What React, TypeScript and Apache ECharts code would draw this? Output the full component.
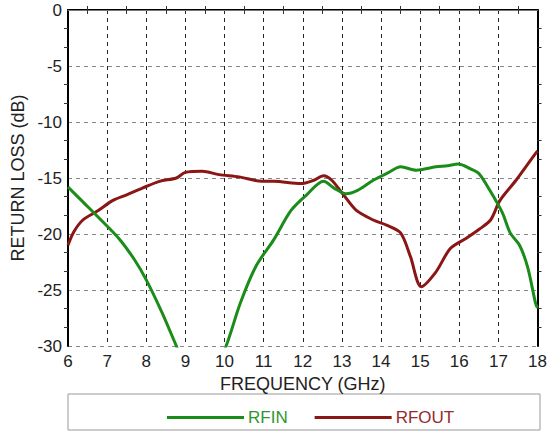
import React, { useEffect, useRef } from "react";
import * as echarts from "echarts";

const xTicks = [6, 7, 8, 9, 10, 11, 12, 13, 14, 15, 16, 17, 18];
const yTicks = [0, -5, -10, -15, -20, -25, -30];

const rfinFreq = [6, 6.4, 6.8, 7.3, 7.7, 8.0, 8.4, 8.77, 9.4, 10.04, 10.4, 10.8, 11.26, 11.7, 12.1, 12.53, 12.8, 13.1, 13.4, 13.8, 14.2, 14.5, 14.9, 15.4, 15.7, 15.97, 16.3, 16.5, 16.78, 17.1, 17.3, 17.54, 17.75, 17.95, 18];
const rfinLoss = [-15.8, -17.2, -18.6, -20.4, -22.3, -24.1, -27.0, -30, -35, -30, -26.2, -22.9, -20.5, -17.9, -16.5, -15.3, -15.9, -16.4, -16.1, -15.2, -14.5, -14.0, -14.3, -14.0, -13.9, -13.75, -14.2, -14.6, -16.1, -18.1, -19.9, -21.0, -23.0, -26.2, -26.6];

const rfoutFreq = [6, 6.15, 6.38, 6.73, 7.15, 7.5, 7.9, 8.34, 8.77, 9.0, 9.43, 9.86, 10.37, 10.96, 11.26, 11.95, 12.28, 12.53, 12.74, 13.04, 13.37, 13.8, 14.14, 14.5, 14.75, 15.03, 15.4, 15.77, 16.17, 16.5, 16.8, 17.04, 17.45, 17.95, 18];
const rfoutLoss = [-21.0, -19.8, -18.75, -18.0, -17.0, -16.5, -15.9, -15.3, -15.0, -14.5, -14.4, -14.7, -14.9, -15.3, -15.3, -15.5, -15.2, -14.8, -15.2, -16.5, -17.9, -18.75, -19.2, -19.9, -22.0, -24.7, -23.4, -21.3, -20.4, -19.6, -18.75, -17.0, -15.2, -12.8, -12.6];

const GREEN = "#1a8c1a";
const RED = "#8b1616";
const FONT = "Liberation Sans";

function zip(xs: number[], ys: number[]) {
  return xs.map((x, i) => [x, ys[i]]);
}

export default function App() {
  const ref = useRef<HTMLDivElement>(null);
  useEffect(() => {
    const chart = echarts.init(ref.current!, null, { renderer: "svg" });
    const grid = { left: 68, right: 10, top: 10, bottom: 87 };
    chart.setOption({
      animation: false,
      backgroundColor: "#ffffff",
      grid,
      xAxis: [
        {
          type: "value",
          min: xTicks[0],
          max: xTicks[xTicks.length - 1],
          interval: 1,
          position: "bottom",
          name: "FREQUENCY (GHz)",
          nameLocation: "middle",
          nameGap: 26,
          nameTextStyle: { fontFamily: FONT, fontSize: 18, color: "#222" },
          axisLine: { show: true, lineStyle: { color: "#000", width: 2 } },
          axisTick: { show: false },
          minorTick: { show: true, splitNumber: 2, length: 4, lineStyle: { color: "#333", width: 1 } },
          axisLabel: { fontFamily: FONT, fontSize: 17, color: "#222", margin: 7 },
          splitLine: { show: true, lineStyle: { color: "#222", type: [4, 4], width: 1 } },
        },
        {
          type: "value",
          min: xTicks[0],
          max: xTicks[xTicks.length - 1],
          interval: 1,
          position: "top",
          axisLine: { show: true, lineStyle: { color: "#777", width: 1 } },
          axisTick: { show: false },
          minorTick: { show: true, splitNumber: 2, length: 4, lineStyle: { color: "#333" } },
          axisLabel: { show: false },
          splitLine: { show: false },
        },
      ],
      yAxis: [
        {
          type: "value",
          min: yTicks[yTicks.length - 1],
          max: yTicks[0],
          interval: 5,
          name: "RETURN LOSS (dB)",
          nameLocation: "middle",
          nameGap: 37,
          nameTextStyle: { fontFamily: FONT, fontSize: 18, color: "#222" },
          axisLine: { show: true, lineStyle: { color: "#000", width: 2 } },
          axisTick: { show: false },
          minorTick: { show: true, splitNumber: 3, length: 4, lineStyle: { color: "#333" } },
          axisLabel: { fontFamily: FONT, fontSize: 17, color: "#222", margin: 6 },
          splitLine: { show: true, lineStyle: { color: "#888", type: [4, 4], width: 1.2 } },
        },
        {
          type: "value",
          min: yTicks[yTicks.length - 1],
          max: yTicks[0],
          interval: 5,
          position: "right",
          axisLine: { show: true, lineStyle: { color: "#000", width: 2 } },
          axisTick: { show: false },
          minorTick: { show: true, splitNumber: 3, length: 4, lineStyle: { color: "#333" } },
          axisLabel: { show: false },
          splitLine: { show: false },
        },
      ],
      legend: {
        left: 162,
        top: 404,
        icon: "rect",
        itemWidth: 77,
        itemHeight: 3,
        itemGap: 27,
        textStyle: { fontFamily: FONT, fontSize: 17, padding: [0, 0, 0, -1] },
        data: [
          { name: "RFIN", textStyle: { color: "#2f962f" } },
          { name: "RFOUT", textStyle: { color: "#962a2a" } },
        ],
      },
      graphic: [
        {
          type: "rect",
          shape: { x: 68, y: 394, width: 472, height: 36 },
          style: { fill: "none", stroke: "#999", lineWidth: 1 },
          silent: true,
        },
      ],
      series: [
        {
          name: "RFIN",
          type: "line",
          data: zip(rfinFreq, rfinLoss),
          showSymbol: false,
          smooth: 0.3,
          lineStyle: { color: GREEN, width: 3 },
          itemStyle: { color: GREEN },
          clip: true,
          z: 3,
        },
        {
          name: "RFOUT",
          type: "line",
          data: zip(rfoutFreq, rfoutLoss),
          showSymbol: false,
          smooth: 0.3,
          lineStyle: { color: RED, width: 3 },
          itemStyle: { color: RED },
          clip: true,
          z: 2,
        },
      ],
    });
    return () => chart.dispose();
  }, []);
  return <div ref={ref} style={{ width: 550, height: 433, position: "absolute", left: 0, top: 0 }} />;
}
